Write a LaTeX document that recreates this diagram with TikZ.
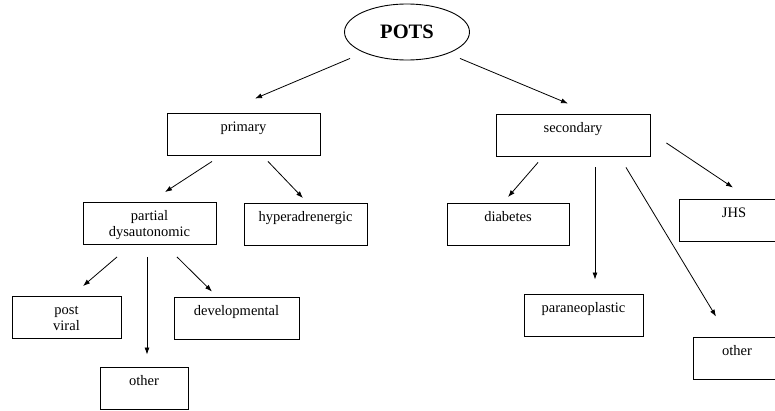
\documentclass[tikz,border=0pt]{standalone}
\usepackage{fontspec}
\setmainfont{Liberation Serif}
\usetikzlibrary{shapes.geometric, positioning, arrows.meta, calc}

\begin{document}
\begin{tikzpicture}[
    x=1pt,y=-1pt,
    catbox/.style={draw, rectangle, line width=0.9pt, inner sep=0pt, align=center, minimum height=42pt, text height=18pt, text depth=24pt, font=\fontsize{14.5}{16}\selectfont},
    twoline/.style={text height=34pt, text depth=8pt},
    rootnode/.style={draw, ellipse, line width=0.9pt, inner sep=0pt, minimum width=125pt, minimum height=56pt, font=\fontsize{20.5}{22}\selectfont\bfseries},
    arr/.style={line width=0.8pt, -{Latex[length=7pt,width=5pt]}}
]
    \clip (0,0) rectangle (775,410);

    % Root
    \node[rootnode] (pots) at (407, 32) {POTS};

    % Primary branch
    \node[catbox, minimum width=153pt] (prim) at (243.5, 134) {primary};
    \node[catbox, twoline, minimum width=133pt] (part) at (149.5, 223.5) {partial\\dysautonomic};
    \node[catbox, minimum width=123pt] (hyper) at (305.5, 224.5) {hyperadrenergic};
    \node[catbox, twoline, minimum width=109pt] (postv) at (66.5, 317.5) {post\\viral};
    \node[catbox, minimum width=125pt] (devel) at (236.5, 318) {developmental};
    \node[catbox, minimum width=88pt] (othera) at (144, 388) {other};

    % Secondary branch
    \node[catbox, minimum width=154pt] (sec) at (573, 135) {secondary};
    \node[catbox, minimum width=122pt] (diab) at (508, 224.5) {diabetes};
    \node[catbox, minimum width=110pt] (jhs) at (734, 220) {JHS};
    \node[catbox, minimum width=119pt] (para) at (583.5, 315) {paraneoplastic};
    \node[catbox, minimum width=88pt] (otherb) at (737, 358) {other};

    % Arrows
    \draw[arr] ($(pots.south)+(-57,-2)$) -- ($(prim.north)+(11.5,-14)$);
    \draw[arr] ($(pots.south)+(53,-2)$) -- ($(sec.north)+(-5,-10)$);
    \draw[arr] ($(prim.south)+(-31.5,6)$) -- ($(part.north)+(15.5,-10)$);
    \draw[arr] ($(prim.south)+(24.5,6)$) -- ($(hyper.north)+(-2.5,-5)$);
    \draw[arr] ($(part.south)+(-32.5,12)$) -- ($(postv.north)+(16.5,-10)$);
    \draw[arr] ($(part.south)+(-2.5,12)$) -- ($(othera.north)+(3,-12)$);
    \draw[arr] ($(part.south)+(27.5,12)$) -- ($(devel.north)+(-24.5,-5)$);
    \draw[arr] ($(sec.south)+(-35,6)$) -- ($(diab.north)+(0,-6)$);
    \draw[arr] ($(sec.south)+(22,11)$) -- ($(para.north)+(11.5,-14)$);
    \draw[arr] ($(sec.south)+(53,11)$) -- ($(otherb.north)+(-21,-20)$);
    \draw[arr] ($(sec.east)+(16,8)$) -- ($(jhs.north)+(-1,-11)$);
\end{tikzpicture}
\end{document}
